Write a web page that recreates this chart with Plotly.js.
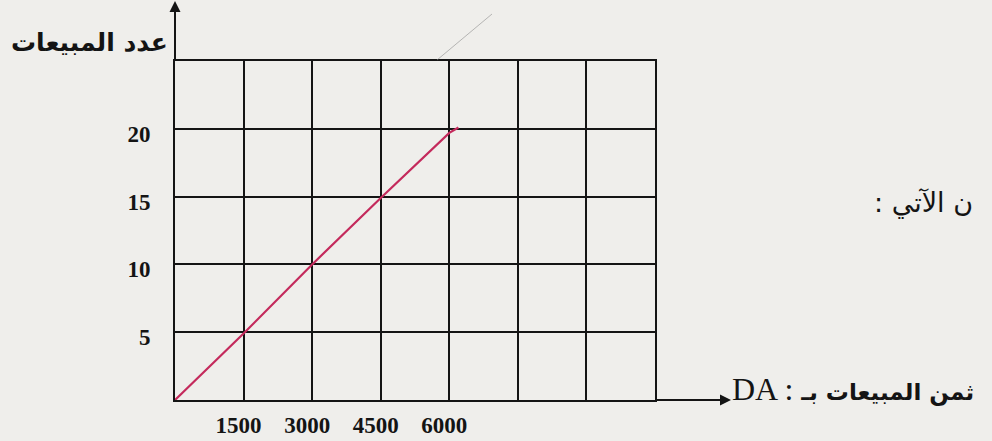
<!DOCTYPE html>
<html>
<head>
<meta charset="utf-8">
<script src="https://cdn.plot.ly/plotly-3.0.1.min.js"></script>
<style>
html,body{margin:0;padding:0;background:#efeeeb;}
#chart{width:992px;height:441px;}
</style>
</head>
<body>
<div id="chart"></div>
<script>
// Data
const priceDA = [0, 1500, 3000, 4500, 6000, 6200];
const salesCount = [0, 4.9, 10, 14.9, 19.7, 20.1];

// Axis ticks
const xTickVals = [1500, 3000, 4500, 6000, 7500, 9000];
const xTickText = ['1500', '3000', '4500', '6000', '', ''];
const yTickVals = [5, 10, 15, 20];
const yTickText = ['5', '10', '15', '20'];

// Texts
const yTitle = 'عدد المبيعات';
const xTitleArabic = 'ثمن المبيعات بـ';
const xUnit = 'DA';
const sideText = ': ن الآتي';

const trace = {
  x: priceDA,
  y: salesCount,
  type: 'scatter',
  mode: 'lines',
  line: {color: '#c42a5c', width: 2.2},
  hoverinfo: 'skip'
};

const W = 480, H = 339; // plot area size in px
const px = v => (v - 175) / W;       // page x -> paper
const py = v => (400 - v) / H;       // page y -> paper

const tickFont = {family: 'Liberation Serif, DejaVu Serif, serif', size: 23, color: '#141414', weight: 'bold'};

const layout = {
  width: 992,
  height: 441,
  margin: {l: 175, r: 337, t: 61, b: 41, pad: 0},
  paper_bgcolor: '#efeeeb',
  plot_bgcolor: '#efeeeb',
  showlegend: false,
  xaxis: {
    range: [0, 10500],
    tickvals: xTickVals,
    ticktext: xTickText,
    showgrid: true,
    gridcolor: '#141414',
    gridwidth: 2,
    showline: true,
    mirror: true,
    linecolor: '#141414',
    linewidth: 2,
    zeroline: false,
    ticks: '',
    ticklabelstandoff: 3,
    ticklabelshift: -5,
    tickfont: tickFont,
    fixedrange: true
  },
  yaxis: {
    range: [0, 25],
    tickvals: yTickVals,
    ticktext: yTickText,
    showgrid: true,
    gridcolor: '#141414',
    gridwidth: 2,
    showline: true,
    mirror: true,
    linecolor: '#141414',
    linewidth: 2,
    zeroline: false,
    ticks: '',
    ticklabelstandoff: 18,
    ticklabelshift: 5,
    tickfont: tickFont,
    fixedrange: true
  },
  shapes: [
    {type: 'line', xref: 'paper', yref: 'paper', x0: px(437), y0: py(60), x1: px(492), y1: py(14),
     line: {color: '#8f8f8f', width: 1}, opacity: 0.6}
  ],
  annotations: [
    // y-axis arrow
    {xref: 'paper', yref: 'paper', x: 0, y: py(1), ax: 0, ay: 60, axref: 'pixel', ayref: 'pixel',
     text: '', showarrow: true, arrowhead: 2, arrowsize: 1.1, arrowwidth: 2, arrowcolor: '#141414', standoff: 0, startstandoff: 0},
    // x-axis arrow
    {xref: 'paper', yref: 'paper', x: px(731), y: 0, ax: -76, ay: 0, axref: 'pixel', ayref: 'pixel',
     text: '', showarrow: true, arrowhead: 2, arrowsize: 1.1, arrowwidth: 2, arrowcolor: '#141414', standoff: 0, startstandoff: 0},
    // y title
    {xref: 'paper', yref: 'paper', x: px(89), y: py(43), xanchor: 'center', yanchor: 'middle',
     text: '<b>' + yTitle + '</b>', showarrow: false,
     font: {family: 'DejaVu Sans, Noto Sans, sans-serif', size: 25, color: '#141414'}},
    // x title
    {xref: 'paper', yref: 'paper', x: px(730), y: py(389), xanchor: 'left', yanchor: 'middle',
     text: '<span style="font-family:Liberation Serif;font-size:32px">' + xUnit + ' : </span><b>' + xTitleArabic + '</b>',
     showarrow: false,
     font: {family: 'DejaVu Sans, sans-serif', size: 23, color: '#141414'}},
    // side text
    {xref: 'paper', yref: 'paper', x: px(872), y: py(203), xanchor: 'left', yanchor: 'middle',
     text: sideText, showarrow: false,
     font: {family: 'DejaVu Sans, sans-serif', size: 27, color: '#141414'}}
  ]
};

Plotly.newPlot('chart', [trace], layout, {displayModeBar: false, staticPlot: true});
</script>
</body>
</html>
